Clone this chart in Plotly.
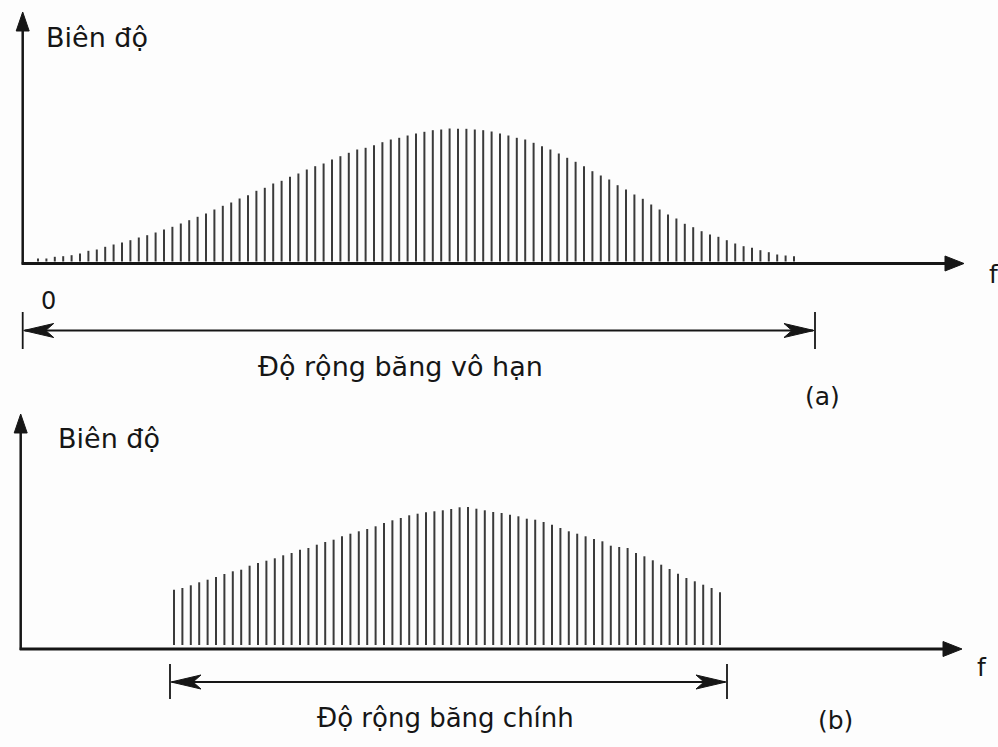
import plotly.graph_objects as go

W, H = 998, 747

# (a) full spectrum: harmonic index and line amplitude
top_k = list(range(1, 92))
top_amp = [
    5, 5, 6.7, 7.3, 8.3, 10, 12.7, 14, 16.7, 19, 21, 23.3, 26, 28.3, 31, 34, 36.7,
    40, 43.3, 46.7, 50, 54, 57.7, 61, 65, 68.3, 72.7, 75.7, 80, 82.7, 86.7, 90, 94,
    97.3, 100,
    104, 107.3, 110.7, 114, 115.7, 118.3, 121.3, 124, 125.7, 128, 130, 131.7, 133.3,
    134, 135, 134.7, 134.7, 134, 133.3, 132, 130, 128, 125.7, 124, 120.7, 117.3, 114,
    110, 105.7, 101.7, 97.3, 92.3, 88, 84, 78.3, 74, 69, 64.7, 59, 54,
    49, 45, 39.7, 36.3, 32.3, 29, 26.7, 23.3, 20, 17.3, 15.7, 13.3, 11.3, 9, 8, 7.3,
]

# (b) main-band spectrum
bot_k = list(range(18, 84))
bot_amp = [
    59.3, 61, 63.7, 66.7, 69.3, 72, 75, 77.7, 79.3, 83.3, 86, 88.3, 90.7, 93.7, 96,
    99.3, 101, 104.3, 107, 109.3, 112.7, 115.3, 117.7, 120, 122.7,
    126, 128.7, 131, 133.7, 135.3, 136.7, 137.7, 138.7, 140, 141.7, 142, 140.3, 138.7,
    137, 136, 134.3, 132.7, 130.3, 129.3, 127, 124.3, 121, 117.7, 115.3, 112.7, 110,
    107.7, 103.3, 102, 101, 96, 92.7, 88.7, 84.3, 80, 75.3, 71, 67.7, 64.3, 61, 56.7,
]

axis_label = "Biên độ"
freq_label = "f"
zero_label = "0"
band_a = "Độ rộng băng vô hạn"
band_b = "Độ rộng băng chính"
tag_a = "(a)"
tag_b = "(b)"

INK = "#161616"
STEM = "#3a3a3a"
FONT = "DejaVu Sans"


def stems(k, amp, base):
    xs, ys = [], []
    for ki, ai in zip(k, amp):
        xs += [ki, ki, None]
        ys += [base, ai, None]
    return xs, ys


def px(x):
    return x / W


def py(y):
    return 1 - y / H


fig = go.Figure()
x1, y1 = stems(top_k, top_amp, 2)
fig.add_trace(go.Scatter(x=x1, y=y1, mode="lines", line=dict(color=STEM, width=2),
                         xaxis="x", yaxis="y", hoverinfo="skip", showlegend=False))
x2, y2 = stems(bot_k, bot_amp, 4)
fig.add_trace(go.Scatter(x=x2, y=y2, mode="lines", line=dict(color=STEM, width=2),
                         xaxis="x2", yaxis="y2", hoverinfo="skip", showlegend=False))

shapes = []


def seg(xa, ya, xb, yb, w=2.5):
    shapes.append(dict(type="line", xref="paper", yref="paper",
                       x0=px(xa), y0=py(ya), x1=px(xb), y1=py(yb),
                       line=dict(color=INK, width=w), layer="above"))


def poly(pts):
    d = "M " + " L ".join(f"{px(a):.5f},{py(b):.5f}" for a, b in pts) + " Z"
    shapes.append(dict(type="path", xref="paper", yref="paper", path=d,
                       fillcolor=INK, line=dict(color=INK, width=1), layer="above"))


def dim_arrow(xl, xr, y, ytop, ybot):
    seg(xl, ytop, xl, ybot, 1.8)
    seg(xr, ytop, xr, ybot, 1.8)
    seg(xl + 2, y, xr - 2, y, 2)
    poly([(xl + 1, y), (xl + 31, y - 7), (xl + 23, y), (xl + 31, y + 7)])
    poly([(xr - 1, y), (xr - 31, y - 7), (xr - 23, y), (xr - 31, y + 7)])


def axes_pair(x0, y0, ytip, xtip):
    seg(x0, y0 + 1, x0, ytip + 18, 2.5)
    poly([(x0, ytip), (x0 - 6.5, ytip + 19), (x0 + 6.5, ytip + 19)])
    seg(x0 - 1, y0, xtip - 18, y0, 3)
    poly([(xtip, y0), (xtip - 19, y0 - 7.5), (xtip - 19, y0 + 7.5)])


# panel (a)
axes_pair(22.7, 263.5, 12, 964)
dim_arrow(22.7, 815, 330.5, 312, 349)
# panel (b)
axes_pair(20.7, 649, 414, 962)
dim_arrow(170, 727, 682, 664, 699)

ann = []


def label(text, x, y, size, anchor="center"):
    ann.append(dict(text=text, x=px(x), y=py(y), xref="paper", yref="paper",
                    xanchor=anchor, yanchor="middle", showarrow=False,
                    font=dict(family=FONT, size=size, color=INK)))


label(axis_label, 44, 38, 27, "left")
label(freq_label, 994, 274, 25)
label(zero_label, 48, 301, 24)
label(band_a, 400, 366, 27)
label(tag_a, 822, 396, 25)

label(axis_label, 56, 438, 27, "left")
label(freq_label, 982, 667, 25)
label(band_b, 445, 718, 26)
label(tag_b, 835, 720, 25)

hidden = dict(visible=False, showgrid=False, zeroline=False, fixedrange=True)
fig.update_layout(
    width=W, height=H,
    margin=dict(l=0, r=0, t=0, b=0),
    paper_bgcolor="#fdfdfd", plot_bgcolor="#fdfdfd",
    xaxis=dict(range=[(0 - 29.6) / 8.4, (W - 29.6) / 8.4], domain=[0, 1], **hidden),
    yaxis=dict(range=[263.5 - H, 263.5], domain=[0, 1], **hidden),
    xaxis2=dict(range=[(0 - 22.8) / 8.4, (W - 22.8) / 8.4], domain=[0, 1],
                overlaying="x", **hidden),
    yaxis2=dict(range=[649 - H, 649], domain=[0, 1], overlaying="y", **hidden),
    shapes=shapes,
    annotations=ann,
)

fig.write_html("out.html")
